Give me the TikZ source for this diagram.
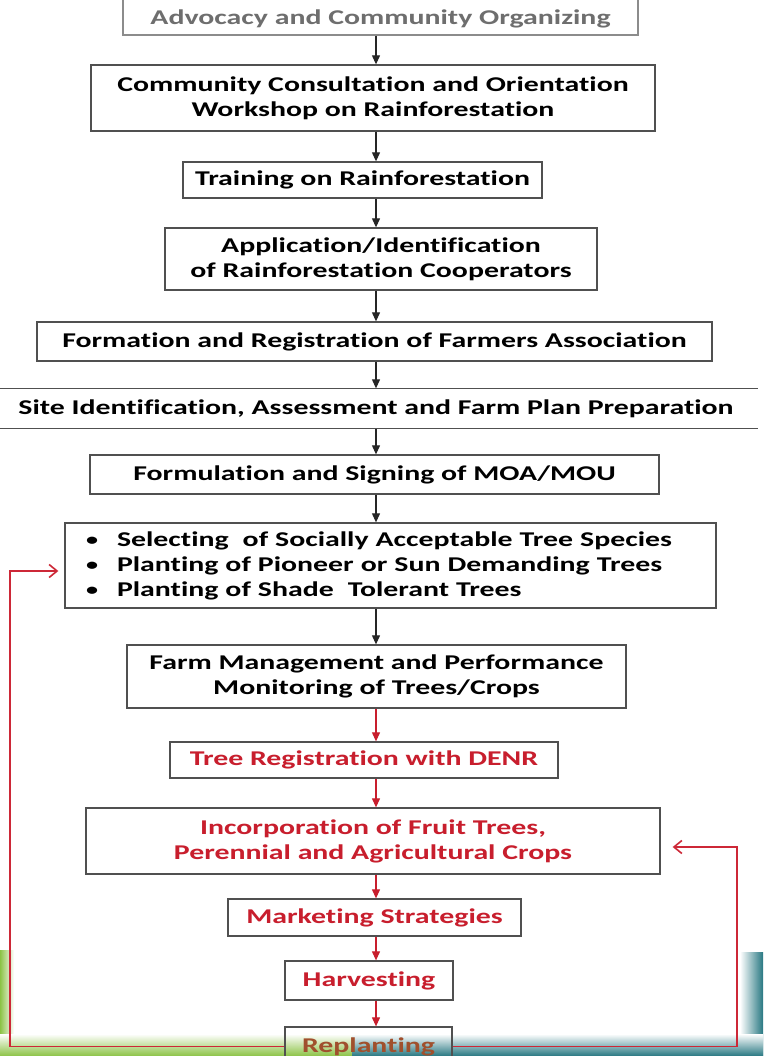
\documentclass[tikz,border=0pt]{standalone}
\usepackage{fontspec}
\setmainfont{Carlito}[FakeStretch=1.42, Ligatures={NoCommon}]
\usetikzlibrary{arrows.meta,positioning}
\definecolor{boxgray}{RGB}{80,80,80}
\definecolor{txtred}{RGB}{200,30,45}
\definecolor{loopred}{RGB}{205,40,55}
\definecolor{fadegray}{RGB}{110,110,110}
\definecolor{replant}{RGB}{160,80,45}
\definecolor{bandgreen}{RGB}{140,195,70}
\definecolor{bandteal}{RGB}{40,120,130}
\newcommand{\dotitem}{\makebox[31pt][l]{\raisebox{1pt}{\fontsize{17}{17}\selectfont\textbullet}}}

\begin{document}
\begin{tikzpicture}[
    x=1pt, y=-1pt,
    font=\fontsize{21}{25}\selectfont\bfseries,
    stepbox/.style={rectangle, draw=boxgray, line width=1.3pt, align=center, inner sep=0pt},
    redbox/.style={stepbox, text=txtred},
    arrow/.style={-{Triangle[length=9pt,width=8pt]}, line width=1.1pt, color=black!85},
    redarrow/.style={arrow, color=txtred},
    feedback/.style={-{Straight Barb[length=8pt,width=13pt]}, line width=1.6pt, color=loopred}
]
\useasboundingbox (0,0) rectangle (763,1056);
\clip (0,0) rectangle (763,1056);

% Slide background
\fill[white] (0,0) rectangle (763,1056);
\shade[left color=bandgreen, right color=white] (0,950) rectangle (14,1056);
\shade[left color=white, right color=bandteal] (740,952) rectangle (763,1056);
\shade[top color=white, bottom color=bandgreen] (0,1034) rectangle (352,1056);
\shade[top color=white, bottom color=bandteal] (352,1034) rectangle (763,1056);

% Preparatory steps
\node[stepbox, text=fadegray, draw=black!45, anchor=base, minimum width=515pt,
      text height=40pt, text depth=10pt] (advocacy) at (380.5,25) {Advocacy and Community Organizing};
\node[stepbox, minimum width=564pt, minimum height=66pt] (consult) at (373,98) {Community Consultation and Orientation\\Workshop on Rainforestation};
\node[stepbox, minimum width=359pt, minimum height=36pt] (training) at (362.5,180) {Training on Rainforestation};
\node[stepbox, minimum width=432pt, minimum height=62pt] (cooperators) at (381,259) {Application/Identification\\of Rainforestation Cooperators};
\node[stepbox, minimum width=675pt, minimum height=39pt] (association) at (374.5,341.5) {Formation and Registration of Farmers Association};
\node[stepbox, draw=none, minimum width=763pt, minimum height=39pt] (site) at (376,408.5) {Site Identification, Assessment and Farm Plan Preparation};
\draw[boxgray, line width=1.3pt] (site.north west) -- (site.north east) (site.south west) -- (site.south east);
\node[stepbox, minimum width=569pt, minimum height=39pt] (moa) at (374.5,474.5) {Formulation and Signing of MOA/MOU};

% Planting
\node[stepbox, align=left, text width=609pt, inner xsep=21pt, minimum height=85pt] (species) at (390.5,565.5)
  {\dotitem Selecting\ \ of Socially Acceptable Tree Species\\
   \dotitem Planting of Pioneer or Sun Demanding Trees\\
   \dotitem Planting of Shade\ \ Tolerant Trees};
\node[stepbox, minimum width=499pt, minimum height=63pt] (monitoring) at (376.5,676.5) {Farm Management and Performance\\Monitoring of Trees/Crops};

% Added steps (red)
\node[redbox, minimum width=388pt, minimum height=36pt] (denr) at (364,760) {Tree Registration with DENR};
\node[redbox, minimum width=574pt, minimum height=66pt] (fruit) at (373,841) {Incorporation of Fruit Trees,\\Perennial and Agricultural Crops};
\node[redbox, minimum width=293pt, minimum height=37pt] (marketing) at (374.5,917.5) {Marketing Strategies};
\node[redbox, minimum width=168pt, minimum height=39pt] (harvesting) at (369,980.5) {Harvesting};
\node[redbox, text=replant, minimum width=167pt, minimum height=39pt] (replanting) at (368.5,1046.5) {Replanting};

% Connections
\coordinate (spine) at (376,0);
\draw[arrow] (advocacy.south -| spine) -- (consult.north -| spine);
\draw[arrow] (consult.south -| spine) -- (training.north -| spine);
\draw[arrow] (training.south -| spine) -- (cooperators.north -| spine);
\draw[arrow] (cooperators.south -| spine) -- (association.north -| spine);
\draw[arrow] (association.south -| spine) -- (site.north -| spine);
\draw[arrow] (site.south -| spine) -- (moa.north -| spine);
\draw[arrow] (moa.south -| spine) -- (species.north -| spine);
\draw[arrow] (species.south -| spine) -- (monitoring.north -| spine);
\draw[redarrow] (monitoring.south -| spine) -- (denr.north -| spine);
\draw[redarrow] (denr.south -| spine) -- (fruit.north -| spine);
\draw[redarrow] (fruit.south -| spine) -- (marketing.north -| spine);
\draw[redarrow] (marketing.south -| spine) -- (harvesting.north -| spine);
\draw[redarrow] (harvesting.south -| spine) -- (replanting.north -| spine);

% Feedback loops
\coordinate (leftturn) at (10,571);
\coordinate (rightturn) at (737,847);
\draw[feedback, shorten >=6pt] (replanting.west) -| (leftturn) -- (leftturn -| species.west);
\draw[feedback, shorten >=12pt] (replanting.east) -| (rightturn) -- (rightturn -| fruit.east);

\end{tikzpicture}
\end{document}
